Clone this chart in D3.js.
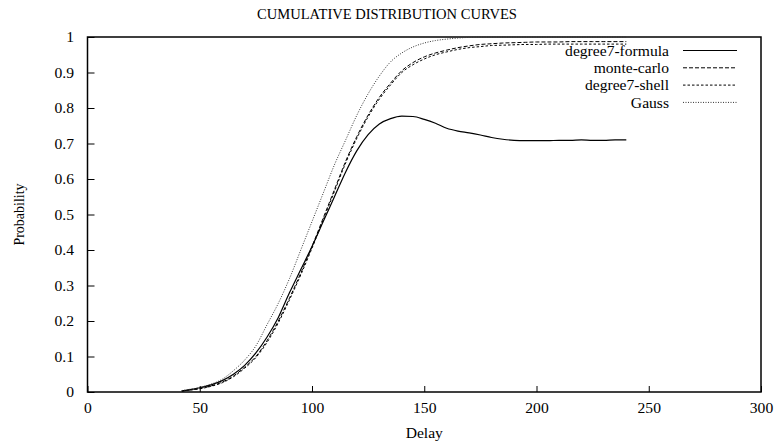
<!DOCTYPE html>
<html><head><meta charset="utf-8">
<script src="https://cdn.jsdelivr.net/npm/d3@7"></script>
<style>
html,body{margin:0;padding:0;background:#fff;}
</style></head>
<body>
<script>
const titleText = "CUMULATIVE DISTRIBUTION CURVES";
const xLabel = "Delay";
const yLabel = "Probability";
const xTicks = [0, 50, 100, 150, 200, 250, 300];
const yTicks = [0, 0.1, 0.2, 0.3, 0.4, 0.5, 0.6, 0.7, 0.8, 0.9, 1];
const seriesNames = ["degree7-formula", "monte-carlo", "degree7-shell", "Gauss"];

const delay = [42,45,50,55,60,65,70,75,80,85,90,95,100,105,110,115,120,125,130,135,140,145,150,155,160,165,170,175,180,185,190,195,200,205,210,215,220,225,230,235,240];

const formula = [0.003,0.006,0.012,0.02,0.032,0.05,0.075,0.11,0.155,0.21,0.28,0.345,0.41,0.48,0.55,0.62,0.68,0.725,0.755,0.77,0.777,0.776,0.768,0.757,0.743,0.735,0.73,0.724,0.717,0.712,0.709,0.708,0.708,0.708,0.709,0.709,0.71,0.709,0.709,0.71,0.71];
const monteCarlo = [0.003,0.005,0.01,0.017,0.028,0.045,0.07,0.1,0.145,0.2,0.265,0.335,0.41,0.49,0.57,0.65,0.72,0.78,0.83,0.87,0.905,0.928,0.944,0.955,0.963,0.97,0.975,0.979,0.981,0.983,0.984,0.985,0.986,0.986,0.986,0.987,0.987,0.987,0.987,0.987,0.987];
const shell = [0.003,0.005,0.009,0.016,0.026,0.043,0.067,0.097,0.14,0.195,0.26,0.33,0.405,0.485,0.565,0.645,0.715,0.775,0.825,0.865,0.9,0.922,0.938,0.95,0.958,0.965,0.97,0.973,0.976,0.977,0.978,0.979,0.979,0.98,0.98,0.98,0.98,0.98,0.98,0.98,0.98];
const gauss = [0.004,0.007,0.013,0.022,0.036,0.06,0.09,0.13,0.19,0.25,0.32,0.4,0.48,0.56,0.64,0.71,0.78,0.84,0.89,0.93,0.955,0.972,0.983,0.99,0.994,0.997,0.999,1,1,1,1,1,1,1,1,1,1,1,1,1,1];

const W = 774, H = 448;
const FONT = "Liberation Serif";
const FS = 15, SX = 1.04;
const svg = d3.select("body").append("svg").attr("width", W).attr("height", H);

const x = d3.scaleLinear().domain([0, 300]).range([87.5, 761]);
const y = d3.scaleLinear().domain([0, 1]).range([392, 37]);

function styleText(sel) {
  sel.attr("font-family", FONT).attr("font-size", FS).attr("fill", "#000");
}

// title
svg.append("text").attr("transform", `translate(${W/2},19) scale(${SX},1)`)
  .attr("text-anchor", "middle").call(styleText).attr("font-size", 14).text(titleText);

// axes
const gx = svg.append("g").attr("transform", `translate(0,${y(0)})`)
  .call(d3.axisBottom(x).tickValues(xTicks).tickFormat(d3.format("d")).tickSize(-6).tickPadding(10));
gx.attr("font-family", FONT).attr("font-size", FS);
gx.select(".domain").remove();
gx.selectAll("text").call(styleText).attr("transform", `scale(${SX},1)`);
gx.selectAll("line").attr("stroke", "#000").attr("stroke-width", 1);

const gy = svg.append("g").attr("transform", `translate(${x(0)},0)`)
  .call(d3.axisLeft(y).tickValues(yTicks).tickFormat(d => d === 0 ? "0" : d === 1 ? "1" : d3.format(".1f")(d)).tickSize(-7).tickPadding(0));
gy.attr("font-family", FONT).attr("font-size", FS);
gy.select(".domain").remove();
gy.selectAll("text").call(styleText).attr("x", -13.5 / SX).attr("transform", `scale(${SX},1)`);
gy.selectAll("line").attr("stroke", "#000").attr("stroke-width", 1);

// frame
svg.append("rect").attr("x", x(0)).attr("y", y(1)).attr("width", x(300) - x(0)).attr("height", y(0) - y(1))
  .attr("fill", "none").attr("stroke", "#000").attr("stroke-width", 1.5);

// axis labels
svg.append("text").attr("transform", `translate(${(x(0)+x(300))/2},438) scale(${SX},1)`)
  .attr("text-anchor", "middle").call(styleText).text(xLabel);
svg.append("text").attr("transform", `translate(24,${(y(0)+y(1))/2}) scale(${SX},1) rotate(-90)`)
  .attr("text-anchor", "middle").call(styleText).attr("font-size", 14).text(yLabel);

// series
const seriesData = [formula, monteCarlo, shell, gauss];
const dashes = [null, "4,2", "2.5,2", "1,1.5"];
const colors = ["#000", "#000", "#000", "#333"];
const widths = [1.2, 1, 1, 1];
const line = d3.line().x(d => x(d[0])).y(d => y(d[1])).curve(d3.curveMonotoneX);

seriesData.forEach((vals, i) => {
  const pts = delay.map((d, j) => [d, vals[j]]);
  svg.append("path").attr("d", line(pts)).attr("fill", "none")
    .attr("stroke", colors[i]).attr("stroke-width", widths[i])
    .attr("stroke-dasharray", dashes[i]);
});

// legend
const legY0 = 50.5, legDY = 17.3;
seriesNames.forEach((name, i) => {
  const ly = legY0 + i * legDY;
  svg.append("text").attr("transform", `translate(669,${ly}) scale(${SX},1)`)
    .attr("text-anchor", "end").attr("dy", "0.35em").call(styleText).text(name);
  svg.append("line").attr("x1", 683).attr("x2", 737).attr("y1", ly).attr("y2", ly)
    .attr("stroke", colors[i]).attr("stroke-width", widths[i]).attr("stroke-dasharray", dashes[i]);
});
</script>
</body></html>
